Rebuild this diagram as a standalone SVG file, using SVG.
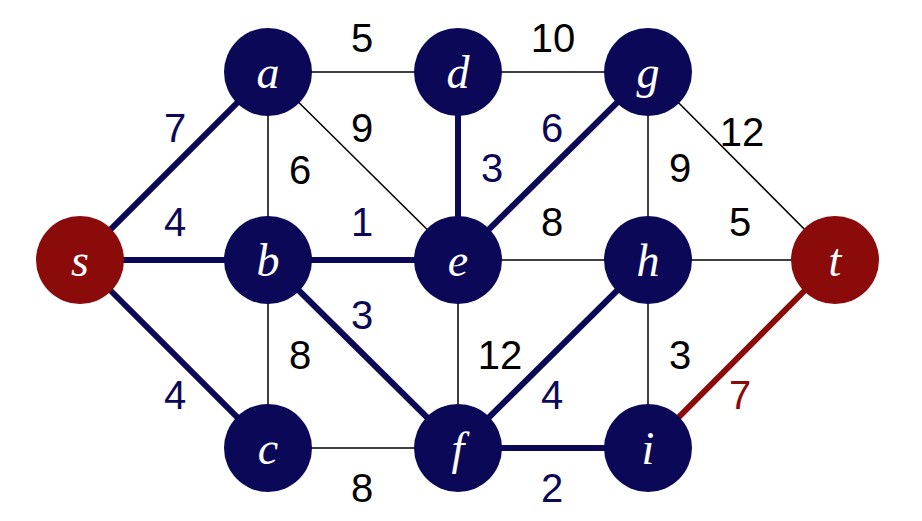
<svg xmlns="http://www.w3.org/2000/svg" width="922" height="521" viewBox="0 0 922 521">
<style>
.thin{stroke:#000;stroke-width:1.5;fill:none}
.blue{stroke:#0b0957;stroke-width:6;fill:none}
.red{stroke:#8b0a0a;stroke-width:6;fill:none}
.nb{fill:#0b0957}.nr{fill:#8b0a0a}
.nl{fill:#fff;font-family:"Liberation Serif",serif;font-style:italic;font-size:46px;text-anchor:middle;dominant-baseline:central}
.w{font-family:"Liberation Sans",sans-serif;font-size:40px;text-anchor:middle;dominant-baseline:central}
.wk{fill:#000}.wb{fill:#0b0957}.wr{fill:#8b0a0a}
</style>
<rect width="922" height="521" fill="#fff"/>
<g id="connectors">
<line class="thin" x1="268" y1="72" x2="458" y2="72"/>
<line class="thin" x1="458" y1="72" x2="648" y2="72"/>
<line class="thin" x1="268" y1="72" x2="268" y2="260"/>
<line class="thin" x1="268" y1="72" x2="458" y2="260"/>
<line class="thin" x1="268" y1="260" x2="268" y2="448"/>
<line class="thin" x1="268" y1="448" x2="458" y2="448"/>
<line class="thin" x1="458" y1="260" x2="458" y2="448"/>
<line class="thin" x1="458" y1="260" x2="648" y2="260"/>
<line class="thin" x1="648" y1="72" x2="648" y2="260"/>
<line class="thin" x1="648" y1="72" x2="835" y2="260"/>
<line class="thin" x1="648" y1="260" x2="835" y2="260"/>
<line class="thin" x1="648" y1="260" x2="648" y2="448"/>
<line class="blue" x1="80" y1="260" x2="268" y2="72"/>
<line class="blue" x1="80" y1="260" x2="268" y2="260"/>
<line class="blue" x1="80" y1="260" x2="268" y2="448"/>
<line class="blue" x1="268" y1="260" x2="458" y2="260"/>
<line class="blue" x1="458" y1="72" x2="458" y2="260"/>
<line class="blue" x1="458" y1="260" x2="648" y2="72"/>
<line class="blue" x1="268" y1="260" x2="458" y2="448"/>
<line class="blue" x1="458" y1="448" x2="648" y2="260"/>
<line class="blue" x1="458" y1="448" x2="648" y2="448"/>
<line class="red" x1="648" y1="448" x2="835" y2="260"/>
</g>
<g id="weights">
<text class="w wk" x="362" y="38">5</text>
<text class="w wk" x="553" y="38">10</text>
<text class="w wb" x="175" y="128">7</text>
<text class="w wk" x="362" y="128">9</text>
<text class="w wk" x="300" y="170">6</text>
<text class="w wb" x="492" y="168">3</text>
<text class="w wb" x="552" y="128">6</text>
<text class="w wk" x="742" y="132">12</text>
<text class="w wk" x="680" y="168">9</text>
<text class="w wb" x="175" y="222">4</text>
<text class="w wb" x="362" y="222">1</text>
<text class="w wk" x="552" y="222">8</text>
<text class="w wk" x="740" y="222">5</text>
<text class="w wb" x="362" y="315">3</text>
<text class="w wk" x="300" y="355">8</text>
<text class="w wk" x="500" y="355">12</text>
<text class="w wk" x="680" y="355">3</text>
<text class="w wb" x="552" y="395">4</text>
<text class="w wb" x="175" y="395">4</text>
<text class="w wr" x="740" y="395">7</text>
<text class="w wk" x="362" y="488">8</text>
<text class="w wb" x="552" y="488">2</text>
</g>
<g id="s"><circle class="nr" cx="80" cy="260" r="44"/><text class="nl" x="80" y="260">s</text></g>
<g id="a"><circle class="nb" cx="268" cy="72" r="44"/><text class="nl" x="268" y="72">a</text></g>
<g id="b"><circle class="nb" cx="268" cy="260" r="44"/><text class="nl" x="268" y="260">b</text></g>
<g id="c"><circle class="nb" cx="268" cy="448" r="44"/><text class="nl" x="268" y="448">c</text></g>
<g id="d"><circle class="nb" cx="458" cy="72" r="44"/><text class="nl" x="458" y="72">d</text></g>
<g id="e"><circle class="nb" cx="458" cy="260" r="44"/><text class="nl" x="458" y="260">e</text></g>
<g id="f"><circle class="nb" cx="458" cy="448" r="44"/><text class="nl" x="458" y="448">f</text></g>
<g id="g"><circle class="nb" cx="648" cy="72" r="44"/><text class="nl" x="648" y="72">g</text></g>
<g id="h"><circle class="nb" cx="648" cy="260" r="44"/><text class="nl" x="648" y="260">h</text></g>
<g id="i"><circle class="nb" cx="648" cy="448" r="44"/><text class="nl" x="648" y="448">i</text></g>
<g id="t"><circle class="nr" cx="835" cy="260" r="44"/><text class="nl" x="835" y="260">t</text></g>
</svg>
